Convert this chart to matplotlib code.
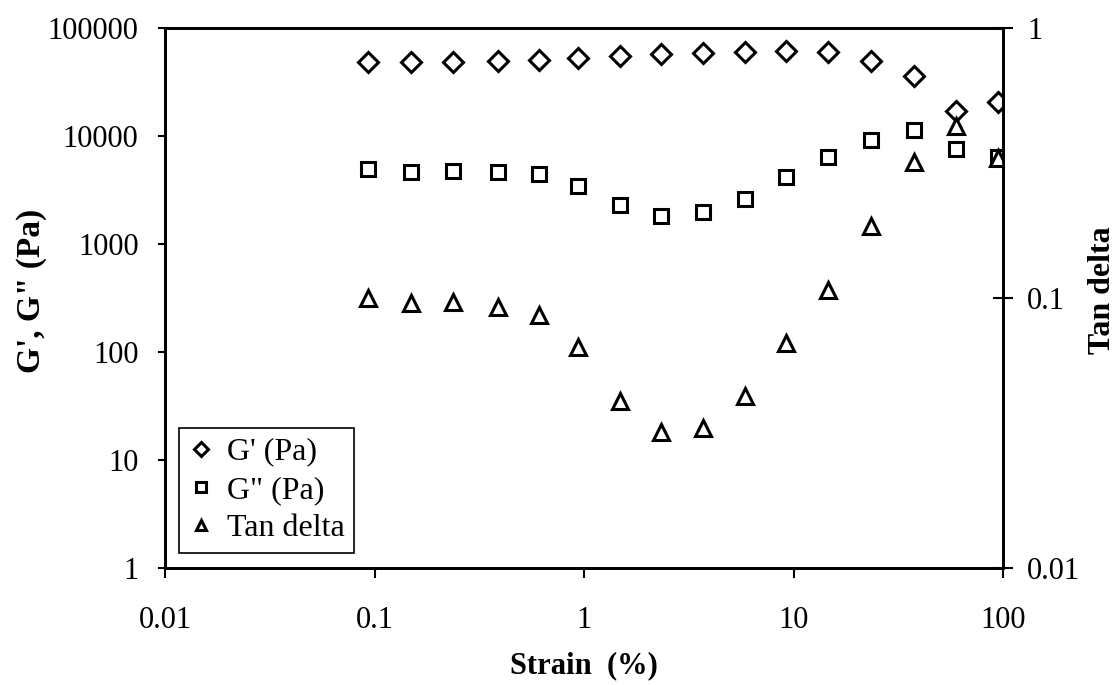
import matplotlib
matplotlib.use("Agg")
import matplotlib.pyplot as plt
from matplotlib.ticker import FixedLocator, NullLocator, FixedFormatter

# strain (%) values
strain = [0.0935, 0.149, 0.237, 0.387, 0.607, 0.933, 1.48, 2.33, 3.70,
          5.84, 9.21, 14.6, 23.5, 37.4, 59.8, 94.9]
g_storage = [48700, 48700, 48700, 49800, 50600, 52400, 55000, 57400, 58700,
             60400, 61200, 59900, 49800, 35900, 17100, 20800]
g_loss = [4920, 4670, 4770, 4640, 4420, 3470, 2280, 1830, 1970,
          2610, 4170, 6430, 9180, 11370, 7590, 6430]
tan_delta = [0.0998, 0.0955, 0.0969, 0.0929, 0.0865, 0.0661, 0.0417, 0.0320,
             0.0331, 0.0434, 0.0680, 0.107, 0.184, 0.318, 0.434, 0.329]

x_ticks = [0.01, 0.1, 1, 10, 100]
x_labels = ["0.01", "0.1", "1", "10", "100"]
left_ticks = [1, 10, 100, 1000, 10000, 100000]
left_labels = ["1", "10", "100", "1000", "10000", "100000"]
right_ticks = [0.01, 0.1, 1]
right_labels = ["0.01", "0.1", "1"]

plt.rcParams["font.family"] = ["Liberation Serif", "DejaVu Serif"]

fig = plt.figure(figsize=(11.18, 6.85), dpi=100)
ax = fig.add_axes([165 / 1118, 1 - 568 / 685, 838 / 1118, 540 / 685])
ax2 = ax.twinx()

mk = dict(linestyle="none", markerfacecolor="white", markeredgecolor="black",
          markeredgewidth=2.2, color="black")
h1, = ax.plot(strain, g_storage, marker="D", markersize=10, label="G' (Pa)", **mk)
h2, = ax.plot(strain, g_loss, marker="s", markersize=10.5, label='G" (Pa)', **mk)
h3, = ax2.plot(strain, tan_delta, marker="^", markersize=11, label="Tan delta", **mk)

ax.set_xscale("log")
ax.set_yscale("log")
ax2.set_yscale("log")
ax.set_xlim(0.01, 100)
ax.set_ylim(1, 100000)
ax2.set_ylim(0.01, 1)

ax.xaxis.set_major_locator(FixedLocator(x_ticks))
ax.xaxis.set_major_formatter(FixedFormatter(x_labels))
ax.xaxis.set_minor_locator(NullLocator())
ax.yaxis.set_major_locator(FixedLocator(left_ticks))
ax.yaxis.set_major_formatter(FixedFormatter(left_labels))
ax.yaxis.set_minor_locator(NullLocator())
ax2.yaxis.set_major_locator(FixedLocator(right_ticks))
ax2.yaxis.set_major_formatter(FixedFormatter(right_labels))
ax2.yaxis.set_minor_locator(NullLocator())

ax.tick_params(axis="x", direction="out", length=7, width=1.5,
               labelsize=22, pad=20, top=False)
ax.tick_params(axis="y", direction="out", length=5, width=1.5,
               labelsize=22, pad=14)
ax2.tick_params(axis="y", direction="inout", length=15, width=1.5,
                labelsize=22, pad=10)

for a in (ax, ax2):
    for s in a.spines.values():
        s.set_linewidth(2.0)

ax.set_xlabel("Strain  (%)", fontsize=22, fontweight="bold", labelpad=12)
ax.set_ylabel('G\', G" (Pa)', fontsize=24, fontweight="bold")
ax.yaxis.set_label_coords(-0.141, 0.513)
ax2.set_ylabel("Tan delta", fontsize=23, fontweight="bold")
ax2.yaxis.set_label_coords(1.101, 0.515)

leg = ax.legend(handles=[h1, h2, h3], loc="lower left", fontsize=23,
                markerscale=0.7, handlelength=0.8, handletextpad=0.4,
                borderpad=0.3, labelspacing=0.28, fancybox=False,
                framealpha=1, borderaxespad=0,
                bbox_to_anchor=(0.0167, 0.028))
leg.get_frame().set_edgecolor("black")
leg.get_frame().set_linewidth(1.2)

fig.savefig("out.png", dpi=100)
